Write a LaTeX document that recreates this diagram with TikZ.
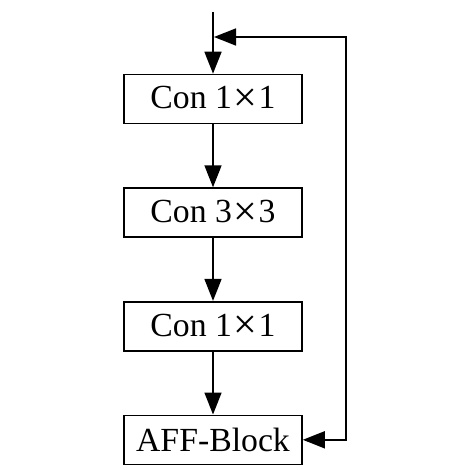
\documentclass[tikz,border=0pt]{standalone}
\usepackage{fontspec}
\setmainfont{Liberation Serif}
\usepackage{tikz}
\usetikzlibrary{arrows.meta,positioning}
\newcommand{\bigtimes}{\kern1pt\raisebox{-1.8pt}{\fontsize{30}{30}\selectfont ×}\kern1pt}

\begin{document}
\begin{tikzpicture}[
  x=0.25mm, y=-0.25mm,
  node distance=15.75mm,
  block/.style={draw, line width=0.4mm, inner sep=0pt, minimum width=44.5mm,
              minimum height=12.25mm, font=\fontsize{24}{28}\selectfont},
  arr/.style={-{Triangle[length=5.5mm, width=4.25mm]}, line width=0.4mm},
  backarr/.style={{Triangle[length=5.5mm, width=4.25mm]}-{Triangle[length=5.5mm, width=4.25mm]},
              line width=0.4mm}
]
\useasboundingbox (0,0) rectangle (450,470);
\node[block] (c1) at (213,99) {Con 1\bigtimes1};
\node[block, below=of c1] (c2) {Con 3\bigtimes3};
\node[block, below=of c2] (c3) {Con 1\bigtimes1};
\node[block, below=of c3] (aff) {AFF-Block};
\coordinate (in) at (213,12);
\coordinate (tap) at (214,37);
\coordinate (rail) at (346,37);
\draw[arr] (in) -- (c1);
\draw[arr] (c1) -- (c2);
\draw[arr] (c2) -- (c3);
\draw[arr] (c3) -- (aff);
\draw[backarr] (tap) -- (rail) -- (rail |- aff.east) -- (aff.east);
\end{tikzpicture}
\end{document}
